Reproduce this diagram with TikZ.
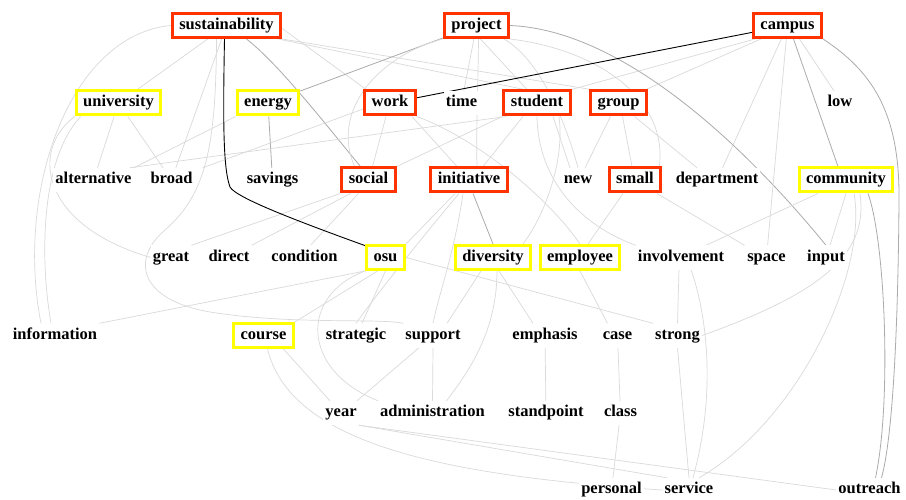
\documentclass[tikz,border=0pt]{standalone}
\usepackage{fontspec}
\setmainfont{Liberation Serif}
\definecolor{boxred}{HTML}{FF3300}
\definecolor{boxyellow}{HTML}{FFFF00}
\definecolor{edgelight}{HTML}{DADADA}
\definecolor{edgemid}{HTML}{ABABAB}
\pgfdeclarelayer{background}
\pgfsetlayers{background,main}
\begin{document}
\begin{tikzpicture}[x=1pt,y=-1pt,
  word/.style={font=\fontsize{16.5}{18}\selectfont\bfseries, text height=11pt, text depth=3.5pt,
               inner xsep=2pt, inner ysep=0pt, minimum height=24pt, fill=white},
  redbox/.style={word, inner xsep=7pt, draw=boxred, line width=3pt},
  yellowbox/.style={word, inner xsep=7pt, draw=boxyellow, line width=3pt},
  el/.style={draw=edgelight, line width=0.7pt},
  em/.style={draw=edgemid, line width=0.8pt},
  ek/.style={draw=black, line width=0.9pt}]

\useasboundingbox (0,0) rectangle (906,500);

% row 1
\node[redbox] (sus) at (226.5,25.5) {sustainability};
\node[redbox] (proj) at (476.5,25.5) {project};
\node[redbox] (camp) at (787.5,25.5) {campus};
% row 2
\node[yellowbox] (univ) at (118.5,103) {university};
\node[yellowbox] (energy) at (268,103) {energy};
\node[redbox] (work) at (390,103) {work};
\node[word] (time) at (461.5,103) {time};
\node[redbox] (student) at (537,103) {student};
\node[redbox] (group) at (618.5,103) {group};
\node[word] (low) at (840,103) {low};
% row 3
\node[word] (alt) at (93.5,180) {alternative};
\node[word] (broad) at (171.5,180) {broad};
\node[word] (savings) at (272.5,180) {savings};
\node[redbox] (social) at (368.5,180) {social};
\node[redbox] (init) at (469,180) {initiative};
\node[word] (new) at (578,180) {new};
\node[redbox] (small) at (635,180) {small};
\node[word] (dept) at (717,180) {department};
\node[yellowbox] (comm) at (846,180) {community};
% row 4
\node[word] (great) at (171,257.5) {great};
\node[word] (direct) at (229,257.5) {direct};
\node[word] (cond) at (304.5,257.5) {condition};
\node[yellowbox] (osu) at (385.5,257.5) {osu};
\node[yellowbox] (div) at (493,257.5) {diversity};
\node[yellowbox] (empl) at (580,257.5) {employee};
\node[word] (invol) at (681,257.5) {involvement};
\node[word] (space) at (766.5,257.5) {space};
\node[word] (input) at (826,257.5) {input};
% row 5
\node[word] (info) at (55,335.5) {information};
\node[yellowbox] (course) at (263.5,335.5) {course};
\node[word] (strat) at (356,335.5) {strategic};
\node[word] (support) at (433,335.5) {support};
\node[word] (emph) at (545,335.5) {emphasis};
\node[word] (case) at (617.5,335.5) {case};
\node[word] (strong) at (677.5,335.5) {strong};
% row 6
\node[word] (year) at (341,413) {year};
\node[word] (admin) at (432.5,413) {administration};
\node[word] (stand) at (546,413) {standpoint};
\node[word] (class) at (620.5,413) {class};
% row 7
\node[word] (personal) at (611.5,490) {personal};
\node[word] (service) at (689,490) {service};
\node[word] (outreach) at (869.5,490) {outreach};

\begin{pgfonlayer}{background}
\fill[white] (0,0) rectangle (906,500);
% sustainability
\draw[el] (sus) -- (univ);
\draw[el] (sus) -- (broad);
\draw[em] ([xshift=20pt]sus.south) .. controls (280,65) and (330,130) .. ([xshift=-8pt]social.north);
\draw[el] ([yshift=-3pt]sus.east) -- ([xshift=3pt]work.north west);
\draw[el] ([xshift=-4pt]sus.south east) -- ([xshift=22pt]student.north west);
\draw[el] (sus.south east) -- ([xshift=2pt]group.north west);
\draw[el] (sus.west) .. controls (70,35) and (15,190) .. ([xshift=-14pt]info.north);
\draw[el] ([xshift=-10pt]sus.south) .. controls (216,150) and (205,195) .. (165,230)
          .. controls (130,260) and (140,300) .. (210,312)
          .. controls (290,325) and (380,318) .. (support.north west);
% university, energy
\draw[el] (univ) -- (alt);
\draw[el] (univ) -- (broad);
\draw[el] (univ.south west) .. controls (30,150) and (40,225) .. (great.west);
\draw[el] ([xshift=6pt]univ.south west) .. controls (40,160) and (40,260) .. ([xshift=-4pt]info.north);
\draw[em] (energy) -- (savings);
\draw[el] (energy.south west) -- (alt.north east);
% project
\draw[em] (proj) -- (energy);
\draw[el] (proj) -- (time);
\draw[el] ([xshift=4pt]proj.south) -- ([xshift=-10pt]student.north);
\draw[el] ([xshift=2pt]proj.south) .. controls (478,90) and (476,130) .. ([xshift=8pt]init.north);
\draw[em] (proj.east) .. controls (620,30) and (740,140) .. (input.north);
\draw[el] (proj.south east) .. controls (600,50) and (668,100) .. ([xshift=-3pt]small.north east);
\draw[el] ([xshift=-6pt]proj.south east) .. controls (540,60) and (565,120) .. (new.north);
\draw[el] (proj.south west) .. controls (380,55) and (330,110) .. ([xshift=-14pt]social.north);
% campus
\draw[ek] (camp) -- (work);
\draw[el] ([xshift=3pt]camp.south west) -- (student.north east);
\draw[el] ([xshift=9pt]camp.south west) -- ([xshift=-2pt]group.north east);
\draw[el] (camp) -- (dept);
\draw[el] (camp) -- (space);
\draw[em] ([xshift=6pt]camp.south) -- ([xshift=-8pt]comm.north);
\draw[el] ([xshift=12pt]camp.south) -- ([xshift=-6pt]low.north);
\draw[em] (camp.south east) .. controls (870,70) and (900,110) .. (899,200)
          .. controls (898,340) and (892,440) .. ([xshift=12pt]outreach.north);
% community
\draw[em] ([xshift=22pt]comm.south) .. controls (885,240) and (892,400) .. ([xshift=6pt]outreach.north);
\draw[el] ([xshift=8pt]comm.south) .. controls (868,270) and (800,420) .. ([xshift=10pt]service.north);
\draw[el] ([xshift=14pt]comm.south) .. controls (868,250) and (830,290) .. (strong.east);
\draw[el] (comm.south) -- ([xshift=4pt]input.north);
\draw[el] ([xshift=-28pt]comm.south) -- ([xshift=25pt]invol.north);
% group, student
\draw[el] ([xshift=-8pt]group.south) -- ([xshift=7pt]new.north);
\draw[el] ([xshift=4pt]group.south) -- ([xshift=-3pt]small.north);
\draw[el] ([xshift=16pt]group.south) -- ([xshift=-20pt]dept.north);
\draw[el] ([xshift=16pt]student.south) -- ([xshift=-8pt]new.north);
\draw[el] ([xshift=-14pt]student.south) -- ([xshift=14pt]init.north);
\draw[el] (student.south west) -- (social.north east);
\draw[el] ([xshift=22pt]student.south) .. controls (565,160) and (545,215) .. ([xshift=30pt]div.north);
\draw[el] (student.south) .. controls (538,180) and (580,225) .. (invol.north west);
\draw[el] ([xshift=4pt]student.south west) -- ([xshift=-4pt]alt.north east);
% work, social
\draw[el] ([xshift=-4pt]work.south) -- ([xshift=4pt]social.north);
\draw[el] ([xshift=22pt]work.south) -- ([xshift=-12pt]init.north);
\draw[el] ([yshift=-6pt]work.west) -- ([xshift=8pt]broad.north east);
\draw[el] (work.south east) .. controls (480,140) and (550,200) .. (empl.north);
\draw[el] (social.south west) -- (great.north east);
\draw[el] ([xshift=-18pt]social.south) -- (direct.north east);
\draw[el] ([xshift=-10pt]social.south) -- ([xshift=6pt]cond.north);
% initiative, osu
\draw[em] ([xshift=4pt]init.south) -- (div.north);
\draw[el] ([xshift=-14pt]init.south) -- (osu.north east);
\draw[el] ([xshift=-10pt]init.south) .. controls (420,240) and (380,290) .. (strat.north);
\draw[el] ([xshift=-6pt]init.south) .. controls (455,250) and (440,290) .. (support.north);
\draw[el] (osu.south west) -- (info.north east);
\draw[el] ([xshift=-8pt]osu.south) -- (course.north east);
\draw[el] (osu.south) -- ([xshift=6pt]strat.north);
\draw[el] (osu.east) -- (strong.north west);
\draw[el] (osu.south west) .. controls (300,295) and (300,370) .. (admin.north west);
% diversity, employee, small
\draw[el] ([xshift=6pt]div.south) -- ([xshift=-12pt]emph.north);
\draw[el] ([xshift=-12pt]div.south) -- ([xshift=14pt]support.north);
\draw[el] ([xshift=4pt]div.south) .. controls (497,330) and (470,370) .. ([xshift=14pt]admin.north);
\draw[el] (empl.south) -- ([xshift=-10pt]case.north);
\draw[el] ([xshift=-12pt]small.south) -- ([xshift=8pt]empl.north);
\draw[el] ([xshift=22pt]small.south) -- ([xshift=-22pt]space.north);
% lower rows
\draw[el] ([xshift=-2pt]invol.south) -- (strong.north);
\draw[el] ([xshift=10pt]invol.south) .. controls (702,300) and (720,380) .. ([xshift=4pt]service.north);
\draw[el] (strong.south) -- (service.north);
\draw[el] (emph) -- (stand);
\draw[el] (case) -- (class);
\draw[el] (class) -- (personal);
\draw[el] ([xshift=20pt]course.south) -- ([xshift=-11pt]year.north);
\draw[el] ([xshift=4pt]course.south) .. controls (290,440) and (430,475) .. (service.west);
\draw[el] ([xshift=-14pt]support.south) -- ([xshift=16pt]year.north);
\draw[el] (support.south) -- (admin.north);
\draw[el] (year.south east) -- ([xshift=-22pt]service.north);
\draw[el] (year.south east) -- (outreach.west);
% sustainability to osu: straight down, then across
\draw[ek] ([xshift=-2pt]sus.south) .. controls (223,120) and (223,168) .. (230,187)
          .. controls (236,198) and (300,222) .. ([xshift=1pt,yshift=-2pt]osu.north west);
\end{pgfonlayer}
\end{tikzpicture}
\end{document}
